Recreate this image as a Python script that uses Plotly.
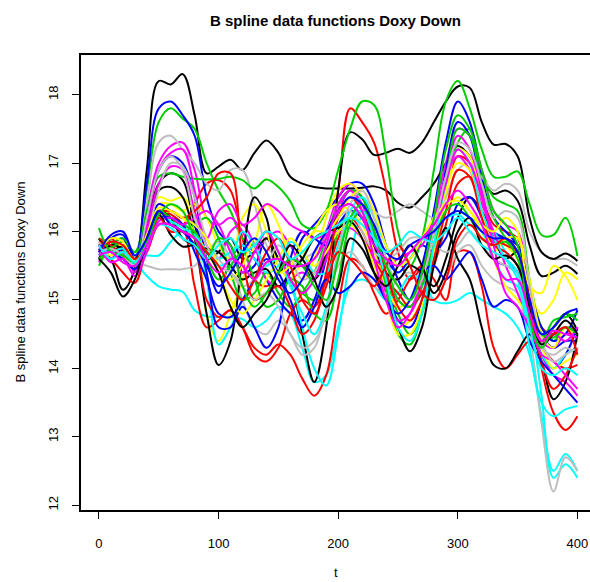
import plotly.graph_objects as go

t = [0, 10, 20, 30, 40, 50, 60, 70, 80, 90, 100, 110, 120, 130, 140, 150, 160, 170, 180, 190, 200,
     210, 220, 230, 240, 250, 260, 270, 280, 290, 300, 310, 320, 330, 340, 350, 360, 370, 380, 390, 400]

black_1 = [15.75, 15.6, 15.15, 15.45, 16.9, 18.2, 18.15, 18.3, 17.7, 16.85, 16.95, 17.05, 16.9, 17.15, 17.33, 17.15, 16.8, 16.7, 16.65, 16.63, 16.63, 16.63, 16.64, 16.66, 16.6, 16.42, 16.35, 16.5, 16.7, 17.0, 17.25, 17.1, 16.75, 16.55, 16.6, 16.45, 15.8, 15.35, 15.4, 15.5, 15.38]
black_2 = [15.7, 15.85, 15.7, 15.55, 16.1, 16.7, 16.85, 16.75, 16.1, 15.6, 15.7, 15.9, 15.6, 15.7, 15.9, 15.6, 15.3, 14.5, 13.8, 14.6, 16.6, 17.45, 17.35, 17.12, 17.15, 17.21, 17.15, 17.3, 17.6, 17.9, 18.12, 18.1, 17.6, 17.27, 17.28, 17.1, 16.2, 15.7, 15.6, 15.68, 15.57]
black_3 = [15.9, 15.7, 15.8, 15.6, 16.0, 16.6, 16.65, 16.5, 15.9, 14.8, 14.05, 14.4, 15.6, 16.5, 16.2, 15.4, 15.6, 15.5, 15.3, 15.7, 16.3, 16.4, 16.2, 15.8, 15.4, 15.3, 15.5, 15.4, 15.2, 15.6, 16.2, 16.5, 16.3, 15.9, 15.6, 15.7, 15.0, 14.4, 14.6, 14.8, 14.55]
black_4 = [15.6, 15.8, 15.75, 15.6, 15.9, 16.3, 16.2, 15.9, 15.8, 15.75, 15.7, 15.5, 15.3, 15.4, 15.45, 15.2, 15.4, 15.6, 15.9, 16.0, 16.05, 16.15, 15.9, 15.4, 15.0, 14.6, 14.25, 14.6, 15.5, 16.05, 15.6, 15.3, 14.6, 14.05, 14.0, 14.25, 14.5, 14.1, 13.55, 13.8, 14.5]
black_5 = [15.6, 15.4, 15.05, 15.3, 15.9, 16.25, 15.95, 15.78, 15.8, 15.7, 15.4, 14.9, 14.6, 14.8, 15.0, 15.4, 15.8, 15.6, 15.3, 14.9, 15.2, 15.9, 15.75, 15.4, 15.2, 15.5, 15.8, 15.5, 15.1, 15.4, 16.0, 16.2, 15.8, 15.6, 15.65, 15.5, 14.9, 14.35, 14.5, 14.7, 14.5]

red_1 = [15.8, 15.9, 15.7, 15.5, 15.9, 16.25, 16.2, 16.1, 16.4, 16.7, 16.75, 16.6, 15.9, 15.3, 15.2, 15.4, 15.6, 15.5, 15.4, 15.7, 16.6, 17.8, 17.6, 17.3, 16.6, 15.7, 15.3, 15.5, 16.0, 16.6, 17.1, 17.0, 16.5, 16.1, 16.0, 15.9, 15.2, 14.6, 14.5, 14.6, 14.55]
red_2 = [15.75, 15.6, 15.4, 15.25, 15.8, 16.3, 16.25, 16.1, 15.2, 14.6, 14.7, 14.85, 14.6, 14.3, 14.2, 14.35, 14.2, 13.85, 13.6, 13.9, 14.9, 15.6, 15.5, 15.1, 14.8, 15.0, 15.3, 15.5, 15.3, 15.0, 15.7, 15.7, 15.2, 14.3, 14.0, 14.2, 14.4, 14.3, 14.1, 14.0, 14.05]
red_3 = [15.85, 15.75, 15.6, 15.5, 15.7, 16.1, 16.1, 16.0, 15.8, 15.0, 14.75, 14.85, 14.6, 14.2, 14.1, 14.3, 14.8, 15.0, 14.9, 15.3, 15.9, 16.2, 16.0, 15.6, 15.3, 15.1, 14.9, 15.1, 15.5, 16.1, 16.7, 16.8, 16.3, 15.9, 15.8, 15.7, 15.0, 14.0, 13.35, 13.1, 13.3]
red_4 = [15.9, 15.8, 15.65, 15.45, 15.85, 16.25, 16.3, 16.2, 16.3, 16.5, 16.85, 16.85, 15.6, 15.0, 15.1, 15.2, 14.9, 14.5, 14.7, 15.4, 16.2, 16.5, 16.3, 15.9, 15.4, 14.9, 14.7, 15.0, 15.6, 16.3, 16.9, 16.8, 16.2, 15.8, 15.7, 15.5, 14.8, 14.1, 13.7, 13.9, 14.3]
red_5 = [15.7, 15.85, 15.8, 15.6, 15.8, 16.2, 16.0, 16.0, 15.9, 15.7, 15.5, 15.2, 15.0, 15.3, 15.7, 15.9, 15.5, 15.0, 14.8, 15.2, 15.7, 15.6, 15.4, 15.2, 15.5, 15.8, 15.5, 15.1, 15.0, 15.3, 15.9, 16.1, 15.9, 15.8, 15.9, 15.7, 15.0, 14.4, 14.5, 14.6, 14.2]

green_1 = [15.9, 15.7, 15.8, 15.7, 16.6, 17.6, 17.8, 17.65, 17.5, 17.0, 16.6, 16.3, 15.9, 15.8, 16.0, 15.7, 15.3, 15.1, 15.0, 15.3, 16.0, 16.3, 16.2, 15.9, 15.3, 14.8, 14.5, 14.8, 15.6, 16.6, 17.3, 17.5, 16.9, 16.5, 16.4, 16.3, 15.3, 14.6, 14.4, 14.6, 14.5]
green_2 = [15.8, 15.85, 15.75, 15.6, 16.3, 16.8, 16.85, 16.8, 16.77, 16.76, 16.77, 16.8, 16.75, 16.63, 16.76, 16.65, 16.44, 16.1, 16.05, 16.3, 16.9, 17.5, 17.9, 17.85, 17.1, 16.0, 15.5, 15.9, 16.9, 17.9, 18.2, 17.8, 17.2, 16.8, 16.8, 16.88, 16.4, 15.95, 15.95, 16.2, 15.64]
green_3 = [15.5, 15.8, 15.9, 15.7, 15.9, 16.2, 16.15, 16.0, 16.1, 16.2, 15.9, 15.4, 15.0, 15.1, 15.4, 15.1, 14.9, 15.1, 15.4, 15.9, 16.4, 16.6, 16.5, 16.0, 15.2, 14.5, 14.35, 14.8, 15.7, 16.7, 17.5, 17.4, 16.7, 16.2, 15.9, 15.7, 14.9, 14.4, 14.7, 14.75, 14.8]
green_4 = [15.6, 15.75, 15.85, 15.5, 15.9, 16.3, 16.2, 16.1, 16.0, 15.6, 15.3, 15.5, 15.7, 15.3, 14.9, 15.0, 15.3, 15.2, 14.8, 14.7, 15.3, 16.1, 16.3, 16.1, 15.6, 15.0, 14.9, 15.2, 15.8, 16.3, 16.4, 16.2, 15.9, 15.8, 15.85, 15.6, 14.9, 14.5, 14.45, 14.6, 14.5]
green_5 = [16.05, 15.7, 15.65, 15.55, 15.85, 16.25, 16.4, 16.3, 15.9, 15.6, 15.9, 15.8, 15.2, 14.9, 15.1, 15.4, 15.6, 15.5, 15.2, 15.0, 15.6, 16.2, 16.4, 16.0, 15.5, 15.2, 15.0, 15.4, 16.2, 17.2, 17.7, 17.5, 16.9, 16.3, 16.1, 15.8, 14.7, 14.3, 14.6, 14.8, 14.7]

blue_1 = [15.6, 15.9, 15.95, 15.6, 16.7, 17.8, 17.9, 17.7, 17.4, 16.5, 16.0, 15.8, 15.4, 15.5, 15.9, 15.6, 15.5, 15.9, 16.1, 16.3, 16.5, 16.7, 16.7, 16.4, 15.8, 15.3, 15.0, 15.5, 16.3, 17.3, 17.9, 17.6, 16.8, 16.2, 16.0, 15.8, 15.1, 14.5, 14.3, 14.4, 14.4]
blue_2 = [15.65, 15.8, 15.9, 15.5, 16.2, 16.9, 17.1, 17.0, 16.5, 15.6, 15.1, 15.6, 15.8, 15.6, 15.3, 15.0, 14.8, 14.7, 15.0, 15.6, 16.3, 16.6, 16.5, 16.0, 15.3, 14.7, 14.6, 15.0, 15.9, 16.9, 17.6, 17.4, 16.6, 16.0, 15.9, 15.8, 15.2, 14.6, 14.4, 14.5, 14.85]
blue_3 = [15.75, 15.6, 15.75, 15.5, 15.9, 16.4, 16.3, 16.2, 16.1, 15.4, 14.6, 14.6, 14.9, 14.6, 14.3, 14.6, 15.6, 16.0, 15.9, 15.8, 16.1, 16.3, 16.2, 15.9, 15.6, 15.4, 15.6, 15.8, 15.7, 15.9, 16.4, 16.5, 16.2, 15.6, 15.5, 15.4, 14.7, 14.2, 14.0, 14.2, 14.6]
blue_4 = [15.8, 15.7, 15.6, 15.45, 15.8, 16.2, 16.2, 16.1, 15.7, 15.3, 14.8, 14.75, 15.0, 15.3, 15.6, 15.4, 15.0, 14.6, 14.9, 15.3, 15.1, 15.2, 15.4, 15.3, 15.0, 14.8, 15.0, 15.4, 15.5, 15.3, 15.5, 15.7, 15.3, 14.9, 15.0, 14.9, 14.4, 14.1, 13.9, 13.7, 13.5]
blue_5 = [15.7, 15.95, 16.0, 15.65, 15.9, 16.3, 16.1, 16.0, 15.8, 15.5, 15.2, 15.4, 15.7, 15.9, 15.7, 15.3, 15.1, 15.3, 15.7, 16.0, 16.3, 16.5, 16.4, 16.1, 15.7, 15.6, 15.8, 15.9, 16.0, 16.2, 16.3, 16.2, 16.0, 15.9, 15.9, 15.7, 15.0, 14.5, 14.6, 14.8, 14.87]

cyan_1 = [15.7, 15.6, 15.7, 15.55, 15.35, 15.2, 15.15, 15.12, 14.85, 14.76, 14.75, 14.75, 14.72, 14.6, 14.7, 14.9, 14.8, 14.3, 13.8, 13.9, 14.6, 15.2, 15.3, 15.2, 15.0, 15.1, 15.35, 15.3, 15.0, 14.95, 15.0, 15.1, 15.0, 14.9, 14.8, 14.6, 14.2, 13.3, 12.5, 12.75, 12.5]
cyan_2 = [15.6, 15.75, 15.65, 15.5, 15.9, 16.2, 16.2, 16.1, 16.0, 15.3, 14.35, 14.6, 15.0, 15.3, 15.5, 15.6, 15.3, 14.6, 14.0, 13.75, 14.5, 15.6, 16.2, 16.0, 15.6, 15.4, 15.6, 15.9, 16.0, 16.2, 16.3, 16.2, 16.1, 16.0, 15.7, 15.5, 14.8, 13.6, 12.4, 12.6, 12.4]
cyan_3 = [15.65, 15.7, 15.6, 15.6, 15.65, 15.65, 15.85, 16.0, 15.9, 15.7, 15.6, 15.7, 15.8, 15.6, 15.4, 15.5, 15.85, 15.7, 15.4, 15.4, 15.8, 16.3, 16.5, 16.2, 15.8, 15.5, 15.6, 15.9, 16.1, 16.2, 16.25, 16.1, 16.0, 15.6, 15.3, 15.2, 14.6, 14.2, 14.0, 14.2, 14.3]
cyan_4 = [15.75, 15.7, 15.75, 15.5, 15.85, 16.2, 16.15, 16.05, 15.95, 15.7, 15.5, 15.6, 16.0, 15.8, 15.5, 15.6, 15.2, 14.8, 14.5, 14.9, 15.7, 16.2, 16.3, 15.9, 15.3, 14.6, 14.4, 14.8, 15.8, 16.7, 17.2, 17.0, 16.3, 15.9, 15.6, 15.3, 14.3, 13.5, 13.3, 13.4, 13.45]
cyan_5 = [15.8, 15.6, 15.7, 15.55, 15.8, 16.1, 16.05, 15.9, 15.8, 15.6, 15.8, 15.9, 15.7, 15.8, 16.0, 15.9, 15.6, 15.7, 15.9, 16.0, 16.1, 16.2, 16.1, 15.9, 15.7, 15.8, 16.0, 15.9, 15.85, 16.0, 16.2, 16.0, 15.8, 15.7, 15.6, 15.4, 14.6, 14.0, 13.9, 14.0, 13.9]

magenta_1 = [15.55, 15.8, 15.7, 15.5, 16.3, 17.0, 17.25, 17.3, 16.9, 16.2, 16.1, 16.2, 16.0, 15.7, 15.9, 16.0, 15.8, 15.5, 15.6, 16.0, 16.5, 16.7, 16.5, 16.0, 15.4, 15.0, 14.9, 15.3, 16.2, 17.0, 17.5, 17.4, 16.9, 16.3, 16.1, 16.0, 15.1, 14.4, 14.3, 14.5, 14.5]
magenta_2 = [15.7, 15.6, 15.8, 15.4, 16.1, 16.9, 17.15, 17.2, 16.6, 15.8, 15.6, 16.0, 16.1, 15.8, 15.3, 15.2, 15.3, 15.4, 15.3, 15.6, 16.3, 16.6, 16.4, 15.8, 15.1, 14.7, 14.8, 15.2, 15.9, 16.8, 17.4, 17.2, 16.6, 15.9, 15.6, 15.4, 14.7, 14.2, 13.9, 13.8, 13.6]
magenta_3 = [15.6, 15.75, 15.65, 15.45, 16.0, 16.7, 16.95, 16.9, 16.3, 15.9, 16.3, 16.4, 16.1, 16.2, 16.4, 16.3, 16.1, 16.0, 15.9, 15.95, 16.0, 16.05, 15.9, 15.6, 15.5, 15.6, 15.7, 15.8, 16.2, 16.8, 17.1, 16.9, 16.4, 16.0, 15.5, 15.1, 14.6, 14.3, 14.5, 14.4, 14.6]
magenta_4 = [15.8, 15.55, 15.6, 15.35, 15.7, 16.15, 16.2, 16.1, 16.2, 16.3, 16.1, 15.7, 15.4, 15.7, 16.0, 15.7, 15.3, 15.1, 15.3, 15.8, 16.4, 16.6, 16.3, 15.6, 15.0, 14.6, 14.8, 15.3, 16.0, 16.7, 17.2, 17.0, 16.5, 15.8, 15.1, 14.9, 14.6, 14.2, 14.1, 13.9, 13.7]
magenta_5 = [15.65, 15.7, 15.55, 15.5, 15.8, 16.1, 16.1, 16.0, 15.9, 15.6, 15.4, 15.6, 15.5, 15.3, 15.55, 15.6, 15.5, 15.5, 15.6, 15.9, 16.3, 16.4, 16.2, 15.8, 15.6, 15.5, 15.7, 15.9, 16.1, 16.4, 16.6, 16.4, 16.1, 15.6, 15.3, 15.3, 14.8, 14.4, 14.55, 14.5, 14.45]

yellow_1 = [15.7, 15.8, 15.7, 15.5, 16.0, 16.5, 16.45, 16.5, 16.2, 14.8, 14.4, 14.8, 15.3, 15.8, 16.4, 16.1, 15.6, 15.3, 15.6, 16.2, 16.6, 16.7, 16.5, 15.9, 15.1, 14.6, 14.7, 15.0, 15.6, 16.5, 17.2, 17.1, 16.5, 16.0, 15.8, 15.6, 15.1, 14.8, 15.0, 15.4, 15.3]
yellow_2 = [15.8, 15.65, 15.75, 15.5, 15.9, 16.4, 16.4, 16.3, 16.4, 16.2, 15.8, 15.6, 16.2, 16.4, 16.0, 15.5, 15.3, 15.6, 16.0, 16.3, 16.4, 16.3, 16.1, 15.7, 15.2, 14.9, 15.0, 15.3, 15.9, 16.3, 16.5, 16.3, 16.0, 15.7, 15.9, 15.9, 15.3, 14.5, 14.3, 14.6, 14.4]
yellow_3 = [15.6, 15.75, 15.8, 15.6, 15.85, 16.2, 16.3, 16.2, 16.0, 15.7, 15.4, 15.0, 14.8, 15.0, 15.3, 15.6, 15.9, 15.7, 15.5, 15.7, 16.0, 16.1, 15.9, 15.5, 15.0, 14.5, 14.5, 14.9, 15.7, 16.6, 17.0, 16.9, 16.3, 15.6, 15.2, 15.0, 14.7, 14.3, 14.0, 14.1, 14.2]
yellow_4 = [15.7, 15.9, 15.85, 15.55, 15.95, 16.35, 16.3, 16.2, 16.1, 15.9, 15.5, 15.3, 15.5, 15.9, 15.7, 15.4, 15.5, 15.8, 16.0, 16.0, 16.2, 16.5, 16.6, 16.3, 15.8, 15.5, 15.6, 15.9, 16.2, 16.4, 16.45, 16.3, 16.1, 16.0, 16.2, 16.0, 15.2, 15.1, 15.5, 15.35, 15.0]

gray_1 = [15.75, 15.8, 15.7, 15.5, 16.4, 17.3, 17.4, 17.2, 17.0, 16.7, 16.6, 16.9, 16.9, 16.4, 15.8, 15.6, 15.5, 15.6, 15.7, 16.0, 16.4, 16.6, 16.5, 16.3, 16.2, 16.3, 16.4, 16.3, 16.2, 16.5, 16.9, 17.0, 16.8, 16.6, 16.7, 16.6, 16.0, 15.7, 15.6, 15.6, 15.5]
gray_2 = [15.6, 15.7, 15.6, 15.55, 15.5, 15.45, 15.45, 15.45, 15.5, 15.7, 15.85, 15.6, 15.0, 14.6, 14.5, 14.7, 14.5, 14.2, 14.3, 14.9, 15.5, 15.7, 15.5, 15.2, 15.1, 15.3, 15.4, 15.2, 15.0, 15.3, 15.7, 15.8, 15.5, 15.3, 15.2, 15.1, 14.5, 13.2, 12.2, 12.7, 12.5]
gray_3 = [15.85, 15.6, 15.7, 15.45, 15.9, 16.6, 17.0, 16.95, 16.5, 15.9, 15.6, 15.4, 15.2, 15.3, 15.5, 15.8, 15.6, 15.3, 15.4, 15.8, 16.2, 16.3, 16.0, 15.7, 15.6, 15.7, 15.9, 15.9, 15.8, 15.7, 15.8, 16.0, 15.8, 15.6, 15.5, 15.4, 14.8, 14.3, 14.2, 14.3, 14.2]
gray_4 = [15.7, 15.75, 15.65, 15.5, 16.2, 16.9, 17.1, 16.9, 16.2, 15.8, 15.5, 15.4, 15.2, 15.0, 15.1, 14.9, 14.5, 14.3, 14.4, 14.8, 15.7, 16.4, 16.6, 16.2, 15.6, 15.2, 15.0, 15.3, 16.0, 16.8, 17.3, 17.2, 16.7, 16.2, 16.3, 16.2, 15.2, 14.4, 14.1, 14.2, 14.3]

x_ticks = [0, 100, 200, 300, 400]
y_ticks = [12, 13, 14, 15, 16, 17, 18]

palette = {
    "black": "#000000", "red": "#FF0000", "green": "#00CD00", "blue": "#0000FF",
    "cyan": "#00FFFF", "magenta": "#FF00FF", "yellow": "#FFFF00", "gray": "#BEBEBE",
}

curves = [
    ("black", black_1), ("red", red_1), ("green", green_1), ("blue", blue_1),
    ("cyan", cyan_1), ("magenta", magenta_1), ("yellow", yellow_1), ("gray", gray_1),
    ("black", black_2), ("red", red_2), ("green", green_2), ("blue", blue_2),
    ("cyan", cyan_2), ("magenta", magenta_2), ("yellow", yellow_2), ("gray", gray_2),
    ("black", black_3), ("red", red_3), ("green", green_3), ("blue", blue_3),
    ("cyan", cyan_3), ("magenta", magenta_3), ("yellow", yellow_3), ("gray", gray_3),
    ("black", black_4), ("red", red_4), ("green", green_4), ("blue", blue_4),
    ("cyan", cyan_4), ("magenta", magenta_4), ("yellow", yellow_4), ("gray", gray_4),
    ("black", black_5), ("red", red_5), ("green", green_5), ("blue", blue_5),
    ("cyan", cyan_5), ("magenta", magenta_5),
]

fig = go.Figure()
for name, vals in curves:
    fig.add_trace(go.Scatter(
        x=t, y=vals, mode="lines",
        line=dict(color=palette[name], width=2, shape="spline", smoothing=1.0),
        showlegend=False, hoverinfo="skip",
    ))

font_main = "Liberation Sans, Arial, Helvetica, sans-serif"

fig.update_layout(
    width=590, height=582,
    margin=dict(l=81, r=0, t=55, b=72),
    paper_bgcolor="white", plot_bgcolor="white",
    font=dict(family=font_main, size=12, color="black"),
    showlegend=False,
    annotations=[
        dict(text="<b>B spline data functions Doxy Down</b>", xref="paper", yref="paper",
             x=0.5, y=1, yshift=35, xanchor="center", yanchor="middle", showarrow=False,
             font=dict(size=15, color="black", family=font_main)),
        dict(text="t", xref="paper", yref="paper", x=0.5, y=0, yshift=-62,
             xanchor="center", yanchor="middle", showarrow=False,
             font=dict(size=13, color="black", family=font_main)),
        dict(text="B spline data functions Doxy Down", xref="paper", yref="paper",
             x=0, y=0.5, xshift=-61, xanchor="center", yanchor="middle", textangle=-90,
             showarrow=False, font=dict(size=13, color="black", family=font_main)),
    ],
)

fig.update_xaxes(
    range=[-15, 410.5], tickvals=x_ticks, ticktext=[str(v) for v in x_ticks],
    showgrid=False, zeroline=False, showline=True, linecolor="black", linewidth=1.5,
    mirror=True, ticks="outside", ticklen=7, tickwidth=1.2, tickcolor="black",
    ticklabelstandoff=14, tickfont=dict(size=13, family=font_main),
)
fig.update_yaxes(
    range=[11.93, 18.58], tickvals=y_ticks, ticktext=[str(v) for v in y_ticks],
    showgrid=False, zeroline=False, showline=True, linecolor="black", linewidth=1.5,
    ticks="outside", ticklen=7, tickwidth=1.2, tickcolor="black", tickangle=-90,
    ticklabelstandoff=9, tickfont=dict(size=13, family=font_main),
)

fig.write_html("out.html")
